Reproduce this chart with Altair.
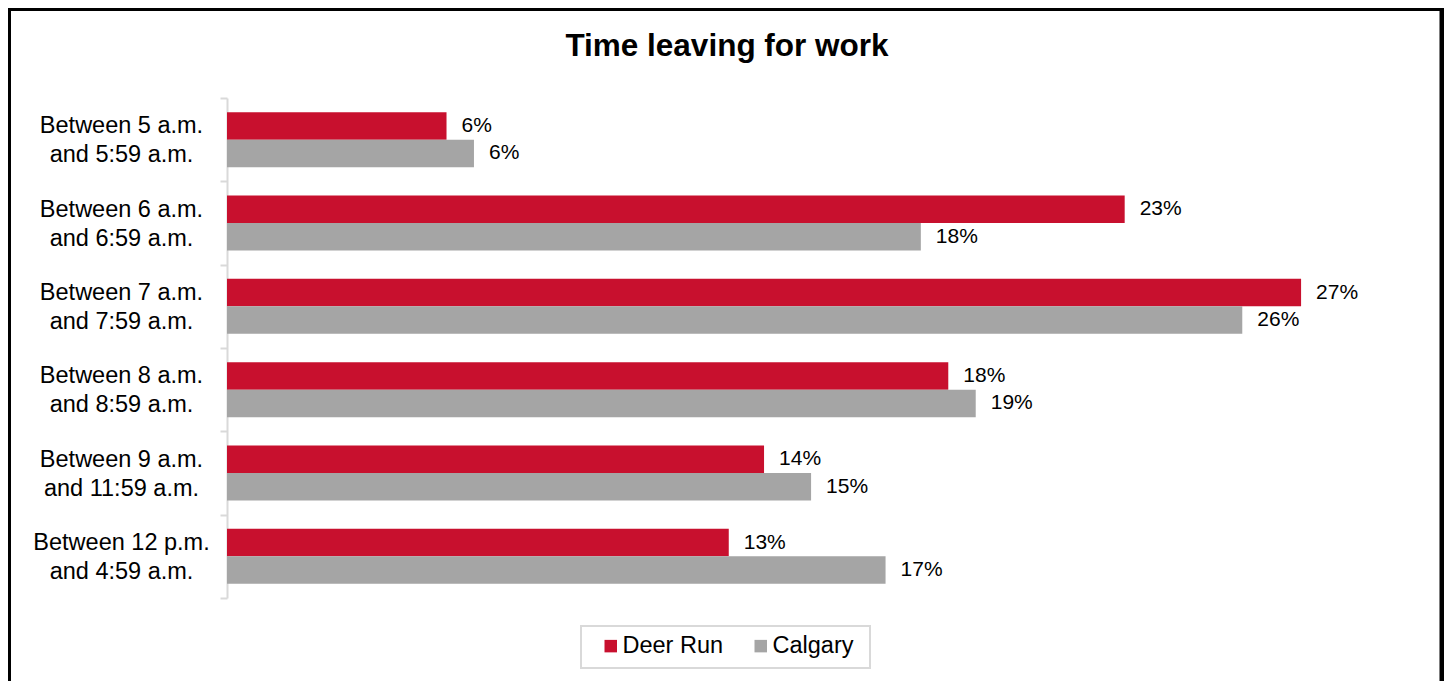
import altair as alt
import pandas as pd

categories = [
    "Between 5 a.m.|and 5:59 a.m.",
    "Between 6 a.m.|and 6:59 a.m.",
    "Between 7 a.m.|and 7:59 a.m.",
    "Between 8 a.m.|and 8:59 a.m.",
    "Between 9 a.m.|and 11:59 a.m.",
    "Between 12 p.m.|and 4:59 a.m.",
]
series = ["Deer Run", "Calgary"]
deer_run = [5.6, 22.9, 27.4, 18.4, 13.7, 12.8]
calgary = [6.3, 17.7, 25.9, 19.1, 14.9, 16.8]
deer_run_labels = ["6%", "23%", "27%", "18%", "14%", "13%"]
calgary_labels = ["6%", "18%", "26%", "19%", "15%", "17%"]
colors = ["#C8102E", "#A5A5A5"]

rows = []
for i, c in enumerate(categories):
    rows.append({"cat": c, "series": "Deer Run", "value": deer_run[i], "label": deer_run_labels[i]})
    rows.append({"cat": c, "series": "Calgary", "value": calgary[i], "label": calgary_labels[i]})
df = pd.DataFrame(rows)

FONT = "Liberation Sans"
PL, PT = 219, 90
W, H = 1176, 500
TOTAL_W, TOTAL_H = 1436, 673

y_scale = alt.Scale(paddingInner=0, paddingOuter=0)
y_enc = alt.Y(
    "cat:N",
    sort=categories,
    scale=y_scale,
    axis=alt.Axis(
        title=None,
        labelExpr="split(datum.label, '|')",
        labelAlign="center",
        labelBaseline="middle",
        labelOffset=-14,
        labelPadding=99,
        labelFontSize=23.5,
        labelLineHeight=29,
        labelFont=FONT,
        labelColor="#000000",
        tickBand="extent",
        tickSize=7,
        tickColor="#D9D9D9",
        tickWidth=2,
        domainColor="#D9D9D9",
        domainWidth=2,
        grid=False,
        labelLimit=400,
    ),
)
x_enc = alt.X("value:Q", scale=alt.Scale(domain=[0, 30]), axis=None)
yoff = alt.YOffset("series:N", sort=series, scale=alt.Scale(paddingInner=0, paddingOuter=0.515))

base = alt.Chart(df)
bars = base.mark_bar().encode(
    y=y_enc,
    x=x_enc,
    yOffset=yoff,
    color=alt.Color(
        "series:N",
        sort=series,
        scale=alt.Scale(domain=series, range=colors),
        legend=alt.Legend(
            title=None,
            orient="none",
            direction="horizontal",
            legendX=372,
            legendY=536,
            symbolType="square",
            symbolSize=156,
            symbolStrokeWidth=0,
            labelFontSize=23.5,
            labelFont=FONT,
            labelColor="#000000",
            labelOffset=0,
            columnPadding=25,
            padding=0,
        ),
    ),
)
texts = base.mark_text(align="left", baseline="middle", dx=15, fontSize=21, font=FONT, color="#000000").encode(
    y=alt.Y("cat:N", sort=categories, scale=y_scale),
    x=x_enc,
    yOffset=yoff,
    text="label:N",
)

frame_data = alt.Data(values=[{"k": 1}])
legend_box = alt.Chart(frame_data).mark_rect(fill="white", stroke="#D9D9D9", strokeWidth=2).encode(
    x=alt.value(354), x2=alt.value(643), y=alt.value(528), y2=alt.value(570)
)
frame = alt.Chart(frame_data).mark_rect(fill=None, stroke="#000000", strokeWidth=6).encode(
    x=alt.value(-PL), x2=alt.value(TOTAL_W - 1.5 - PL), y=alt.value(-PT), y2=alt.value(800)
)

chart = alt.layer(legend_box, bars, texts, frame).properties(
    width=W,
    height=H,
    padding={"left": PL, "top": PT, "right": TOTAL_W - PL - W, "bottom": TOTAL_H - PT - H},
    autosize=alt.AutoSizeParams(type="none"),
    title=alt.Title(
        "Time leaving for work",
        fontSize=31.5,
        font=FONT,
        fontWeight="bold",
        color="#000000",
        anchor="middle",
        frame="group",
        dx=-88,
        offset=-57,
    ),
).configure(
    background="white",
    view=alt.ViewConfig(stroke="transparent", strokeWidth=0),
)

chart.save("out.html", embed_options={"renderer": "svg", "actions": False})
